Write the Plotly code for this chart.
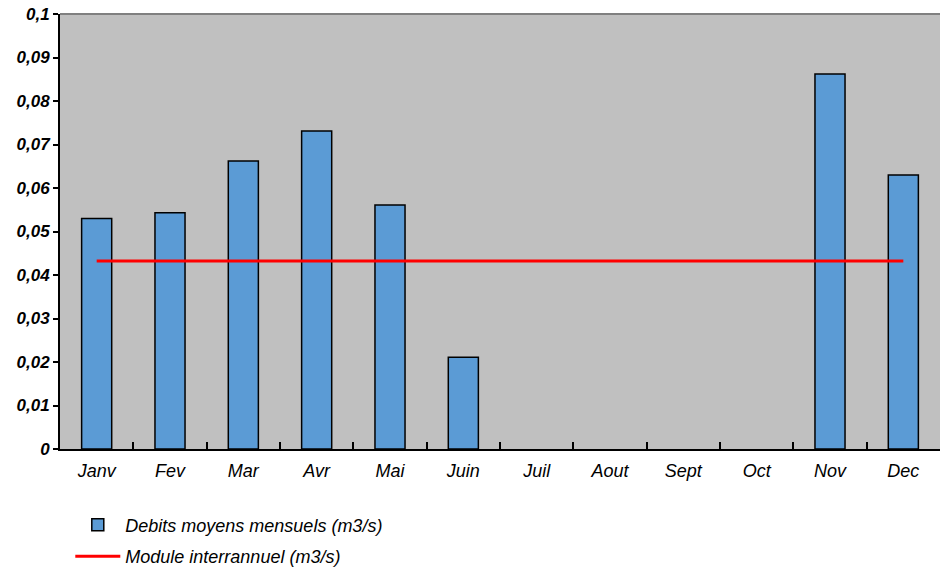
import plotly.graph_objects as go

months = ["Janv", "Fev", "Mar", "Avr", "Mai", "Juin", "Juil", "Aout", "Sept", "Oct", "Nov", "Dec"]
debits = [0.053, 0.0543, 0.0662, 0.0731, 0.0561, 0.0211, 0, 0, 0, 0, 0.0862, 0.063]
module = [0.0432] * 12
yticks = [0, 0.01, 0.02, 0.03, 0.04, 0.05, 0.06, 0.07, 0.08, 0.09, 0.1]
ytick_text = ["0", "0,01", "0,02", "0,03", "0,04", "0,05", "0,06", "0,07", "0,08", "0,09", "0,1"]

font = "Liberation Sans, Arial, sans-serif"

fig = go.Figure()
fig.add_trace(go.Bar(
    x=months, y=debits, name="Debits moyens mensuels (m3/s)",
    marker=dict(color="#5B9BD5",
                line=dict(color="black", width=[1.5 if v > 0 else 0 for v in debits])),
    width=0.41, legendgroup="a",
))
fig.add_trace(go.Scatter(
    x=months, y=module, name="Module interrannuel (m3/s)",
    mode="lines", line=dict(color="#FF0000", width=3), legendgroup="b",
))

fig.update_layout(
    width=941, height=572,
    margin=dict(l=60, r=1, t=14, b=123),
    paper_bgcolor="white",
    plot_bgcolor="#C0C0C0",
    font=dict(family=font, size=18, color="black"),
    showlegend=True,
    legend=dict(
        x=0.0117, y=0.1143, xref="paper", yref="container",
        xanchor="left", yanchor="top",
        orientation="v", bgcolor="rgba(0,0,0,0)",
        font=dict(family=font, size=18, color="black", style="italic"),
        traceorder="grouped", tracegroupgap=5, itemwidth=45,
    ),
)
fig.update_xaxes(
    showgrid=False, showline=True, linecolor="black", linewidth=2,
    ticks="inside", tickson="boundaries", ticklen=7, tickcolor="black", tickwidth=2,
    tickfont=dict(family=font, size=18, style="italic"),
    range=[-0.5, 11.5], automargin=False,
    ticklabelstandoff=4,
)
fig.update_yaxes(
    range=[0, 0.1], tickvals=yticks, ticktext=ytick_text,
    showgrid=False, showline=True, linecolor="black", linewidth=2,
    ticks="outside", ticklen=5, tickcolor="black", tickwidth=2,
    tickfont=dict(family=font, size=17, style="italic", weight="bold"),
    zeroline=False, automargin=False,
)
fig.add_shape(type="line", xref="paper", yref="paper", x0=0, x1=1, y0=1, y1=1,
              line=dict(color="#808080", width=2))

fig.write_html("out.html", config={"displayModeBar": False},
               post_script="document.body.style.margin='0';")
